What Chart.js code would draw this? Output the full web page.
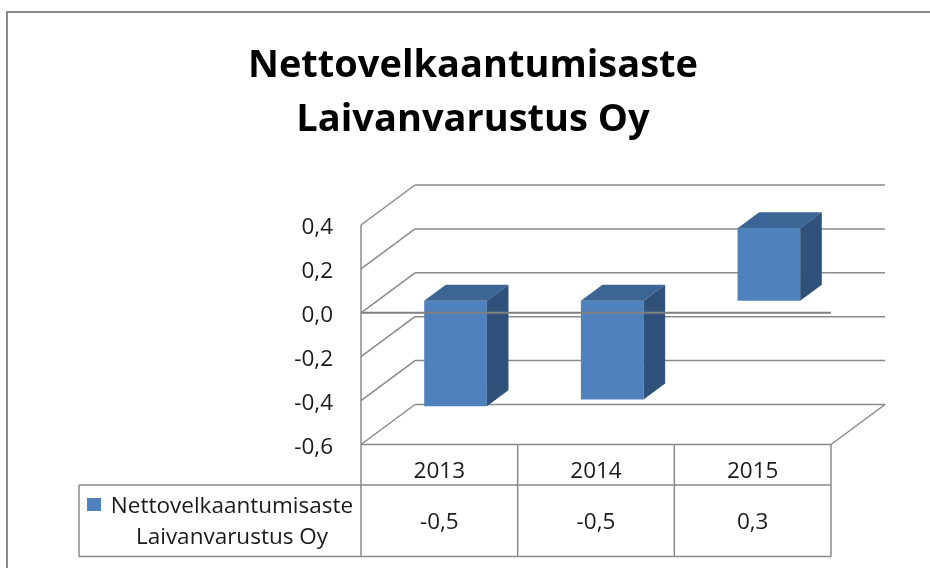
<!DOCTYPE html>
<html><head><meta charset="utf-8">
<script src="https://cdn.jsdelivr.net/npm/chart.js@4/dist/chart.umd.min.js"></script>
<style>html,body{margin:0;padding:0;background:#fff}#wrap{width:930px;height:568px;position:relative}canvas{display:block}</style>
</head><body><div id="wrap"><canvas id="c" width="930" height="568"></canvas></div>
<script>
const titleLines = ['Nettovelkaantumisaste', 'Laivanvarustus Oy'];
const categories = ['2013', '2014', '2015'];
const seriesLabel = ['Nettovelkaantumisaste', 'Laivanvarustus Oy'];
const values = [-0.48, -0.45, 0.33];
const yTicks = [-0.6, -0.4, -0.2, 0, 0.2, 0.4];

const FRONT = '#4F81BD', TOPC = '#3B6594', SIDEC = '#30527A';
const GRID = '#8a8a8a', TEXT = '#1a1a1a';
const DX = 54, DY = -40, F1 = 0.3, F2 = 0.7;
const FONT = '"Open Sans", sans-serif';

function fmt(v) {
  const s = v < 0 ? -1 : 1;
  const r = s * Math.round(Math.abs(v) * 10 + 1e-9) / 10;
  return r.toFixed(1).replace('.', ',');
}
function line(ctx, x1, y1, x2, y2) { ctx.beginPath(); ctx.moveTo(x1, y1); ctx.lineTo(x2, y2); ctx.stroke(); }
function poly(ctx, pts, fill) {
  ctx.beginPath(); ctx.moveTo(pts[0][0], pts[0][1]);
  for (let i = 1; i < pts.length; i++) ctx.lineTo(pts[i][0], pts[i][1]);
  ctx.closePath(); ctx.fillStyle = fill; ctx.fill();
}

const threeD = {
  id: 'threeD',
  beforeDatasetsDraw(chart) {
    const { ctx, chartArea: a, scales: { y } } = chart;
    ctx.save();
    ctx.strokeStyle = GRID; ctx.lineWidth = 1.5;
    yTicks.forEach(t => {
      const py = y.getPixelForValue(t);
      line(ctx, a.left, py, a.left + DX, py + DY);
      line(ctx, a.left + DX, py + DY, a.right + DX, py + DY);
    });
    line(ctx, a.left, a.top, a.left, a.bottom);
    line(ctx, a.right, a.bottom, a.right + DX, a.bottom + DY);
    ctx.restore();
    ctx.save();
    ctx.translate(DX * F1, DY * F1);
  },
  afterDatasetsDraw(chart) {
    const { ctx, chartArea: a, scales: { y } } = chart;
    const meta = chart.getDatasetMeta(0);
    const dx = DX * (F2 - F1), dy = DY * (F2 - F1);
    meta.data.forEach(el => {
      const p = el.getProps(['x', 'y', 'base', 'width'], true);
      const l = p.x - p.width / 2, r = p.x + p.width / 2;
      const top = Math.min(p.y, p.base), bot = Math.max(p.y, p.base);
      poly(ctx, [[l, top], [r, top], [r + dx, top + dy], [l + dx, top + dy]], TOPC);
      poly(ctx, [[r, top], [r + dx, top + dy], [r + dx, bot + dy], [r, bot]], SIDEC);
    });
    ctx.restore();
    ctx.save();
    ctx.strokeStyle = '#808080'; ctx.lineWidth = 2;
    const z = y.getPixelForValue(0);
    line(ctx, a.left, z, a.right, z);
    ctx.restore();
  },
  afterDraw(chart) {
    const { ctx, chartArea: a, scales: { x } } = chart;
    ctx.save();
    // outer frame
    ctx.strokeStyle = '#8c8c8c'; ctx.lineWidth = 2;
    ctx.strokeRect(7, 12, 1000, 1000);
    // title
    ctx.fillStyle = '#000';
    ctx.font = 'bold 38px ' + FONT;
    ctx.textAlign = 'center'; ctx.textBaseline = 'alphabetic';
    ctx.fillText(titleLines[0], 473, 77);
    ctx.fillText(titleLines[1], 473, 131);
    // data table
    const top = a.bottom, mid = 485, bot = 556.5, legL = 79;
    ctx.strokeStyle = GRID; ctx.lineWidth = 1.5;
    line(ctx, a.left, top, a.right, top);
    line(ctx, legL, mid, a.right, mid);
    line(ctx, legL, bot, a.right, bot);
    line(ctx, legL, mid, legL, bot);
    const cw = (a.right - a.left) / categories.length;
    for (let i = 0; i <= categories.length; i++) {
      const px = a.left + i * cw;
      line(ctx, px, top, px, bot);
    }
    ctx.fillStyle = TEXT;
    ctx.font = '22.5px ' + FONT;
    ctx.textAlign = 'center';
    categories.forEach((c, i) => {
      const cx = x.getPixelForValue(i);
      ctx.fillText(c, cx, 478);
      ctx.fillText(fmt(values[i]), cx, 529);
    });
    // legend key
    ctx.fillStyle = FRONT;
    ctx.fillRect(87, 498, 14, 13);
    ctx.fillStyle = TEXT;
    ctx.textAlign = 'center';
    ctx.fillText(seriesLabel[0], 232, 513);
    ctx.fillText(seriesLabel[1], 232, 544);
    ctx.restore();
  }
};

new Chart(document.getElementById('c'), {
  type: 'bar',
  data: {
    labels: categories,
    datasets: [{
      label: seriesLabel.join(' '),
      data: values,
      backgroundColor: FRONT,
      borderWidth: 0,
      barPercentage: 0.4,
      categoryPercentage: 1.0
    }]
  },
  options: {
    responsive: false,
    animation: false,
    devicePixelRatio: 1,
    layout: { padding: { top: 225, right: 99, bottom: 123.5, left: 0 } },
    plugins: { legend: { display: false }, title: { display: false }, tooltip: { enabled: false } },
    scales: {
      x: { type: 'category', display: false, offset: true, grid: { display: false } },
      y: {
        min: -0.6, max: 0.4,
        afterBuildTicks: s => { s.ticks = yTicks.map(v => ({ value: v })); },
        afterFit: s => { s.width = 361; },
        grid: { display: false, drawTicks: false },
        border: { display: false },
        ticks: { padding: 28, labelOffset: 3, color: TEXT, font: { family: FONT, size: 22.5 }, callback: v => fmt(v) }
      }
    }
  },
  plugins: [threeD]
});
</script>
</body></html>
